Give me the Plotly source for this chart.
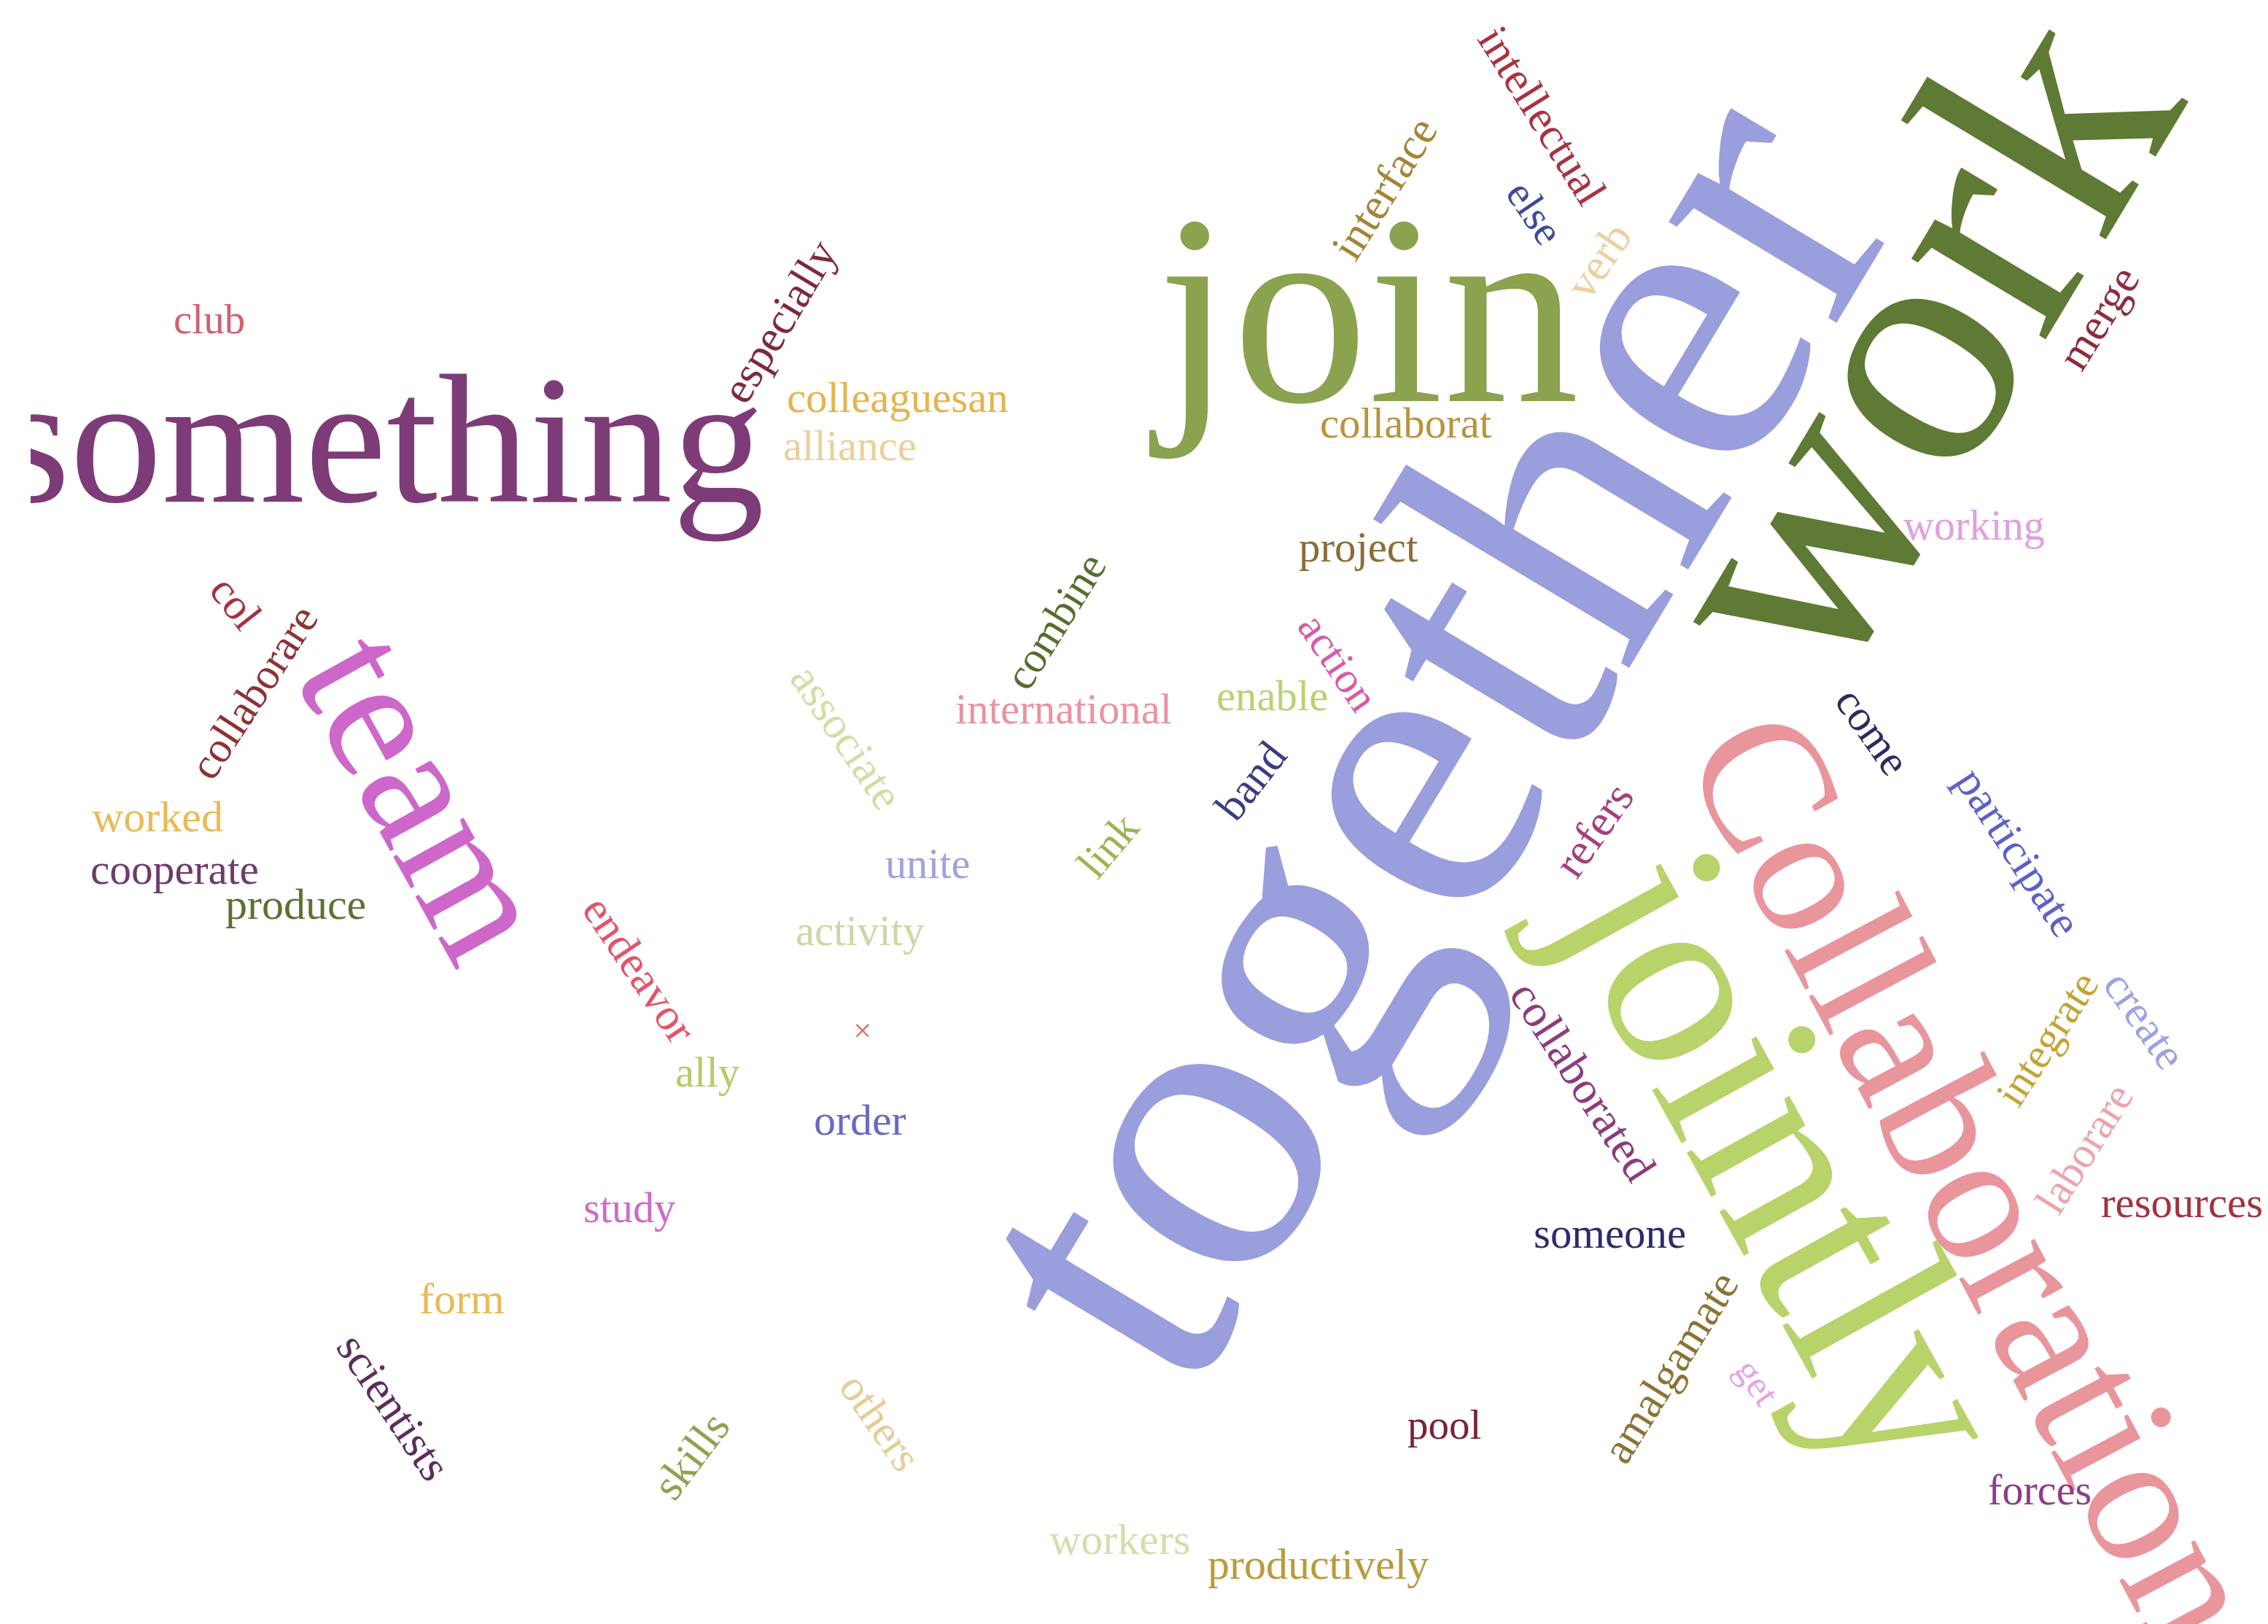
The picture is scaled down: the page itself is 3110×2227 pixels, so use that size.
import plotly.graph_objects as go

# ---- data: words and their weights (font size = weight * 6 px) ----
words = ["club", "something", "especially", "colleaguesan", "alliance", "join", "interface",
         "intellectual", "else", "verb", "together", "work", "merge", "collaborat", "working",
         "project", "combine", "action", "enable", "international", "associate", "band", "link",
         "unite", "activity", "×", "ally", "order", "study", "form", "scientists", "skills",
         "others", "workers", "productively", "pool", "someone", "amalgamate", "get", "jointly",
         "Collaboration", "come", "participate", "refers", "collaborated", "integrate", "create",
         "laborare", "resources", "forces", "team", "col", "collaborare", "worked", "cooperate",
         "produce", "endeavor"]
weights = [9.5, 42, 10.3, 9.8, 9.8, 62, 10.3,
           10.3, 9.7, 10.3, 97.5, 78, 10.3, 9.8, 9.7,
           9.8, 10, 10, 9.8, 9.8, 10.3, 10, 10,
           9.7, 9.8, 7.5, 9.8, 10, 9.7, 10, 10.3, 10.3,
           10, 10, 10, 9.5, 9.8, 10.2, 8.7, 58.3,
           42.5, 10, 10.3, 10.3, 10.5, 9.8, 10.3,
           10, 9.8, 9.7, 40, 10, 10, 10, 9.9,
           10, 10.3]

# ---- placement of each word (canvas pixels) ----
pos_x = [287, 523, 1068, 1231, 1165, 1870, 1898,
         2115, 2105, 2192, 1950, 2618, 2877, 1927, 2707,
         1862, 1447, 1835, 1744, 1458, 1161, 1715, 1519,
         1272, 1179, 1182, 970, 1179, 863, 633, 540, 947,
         1207, 1535, 1807, 1980, 2207, 2290, 2410, 2452,
         2710, 2568, 2768, 2185, 2170, 2807, 2941,
         2858, 2992, 2797, 585, 323, 348, 216, 239,
         405, 877]
pos_y = [437, 625, 441, 545, 611, 425, 258,
         158, 291, 357, 1006, 470, 436, 580, 720,
         750, 852, 908, 954, 972, 1010, 1071, 1160,
         1184, 1276, 1413, 1470, 1536, 1656, 1781, 1929, 1996,
         1950, 2111, 2145, 1953, 1691, 1874, 1895, 1588,
         1615, 1003, 1168, 1138, 1482, 1424, 1398,
         1575, 1649, 2043, 1090, 826, 949, 1120, 1192,
         1240, 1329]
angles = [0, 0, -59, 0, 0, 0, -58,
          58, 56, -56, -59, -59, -58, 0, 0,
          0, -58, 56, 0, 0, 56, -52, -50,
          0, 0, 0, 0, 0, 0, 0, 56, -53,
          55, 0, 0, 0, 0, -58, 55, 61,
          62, 55, 57, -55, 57, -57, 55,
          -58, 0, 0, 61, 52, -57, 0, 0,
          0, 56]
colors = ["#d0606e", "#7d3c78", "#7d2a3c", "#e3b54e", "#ead09a", "#8ba24f", "#a58436",
          "#a8323f", "#3b4a9c", "#ecd0a0", "#9b9edc", "#5e7a34", "#8c2c3c", "#b9943c", "#e0a0e0",
          "#8c6c34", "#566d2e", "#d65aa8", "#b9d273", "#ea93a0", "#d3dea6", "#3c3c84", "#9cb454",
          "#a0a3de", "#cad9a3", "#e06b6b", "#b3cc65", "#676ac4", "#cc6cc6", "#e9b955", "#5c2c5c", "#8da34f",
          "#e4cc94", "#d3dfac", "#bb9a3b", "#7c2333", "#2c2c6c", "#8c7334", "#e4a4e4", "#b7d36a",
          "#e9959c", "#2c2c62", "#5c62c4", "#a4407f", "#8c3c7c", "#c3a333", "#9da2e2",
          "#eba4ab", "#a3323f", "#8c3c8c", "#cd67c9", "#a4323f", "#8c3234", "#e9ba55", "#6c3c6c",
          "#5c7232", "#e3536a"]

W, H = 3110, 2227
LEFT = 42
FONT = "Liberation Serif, Times New Roman, serif"

fig = go.Figure()
annotations = []
for w, wt, x, y, a, c in zip(words, weights, pos_x, pos_y, angles, colors):
    size = wt * 6
    if w == "something":
        # horizontal word clipped by the left edge of the plotting area
        fig.add_trace(go.Scatter(x=[x], y=[y], mode="text", text=[w],
                                 textposition="middle center", cliponaxis=True,
                                 textfont=dict(family=FONT, size=size, color=c),
                                 hoverinfo="skip", showlegend=False))
        continue
    annotations.append(dict(x=x, y=y, xref="x", yref="y", text=w, showarrow=False,
                            textangle=a, xanchor="center", yanchor="middle",
                            font=dict(family=FONT, size=size, color=c)))

fig.update_layout(
    width=W, height=H,
    margin=dict(l=LEFT, r=0, t=0, b=0),
    paper_bgcolor="white", plot_bgcolor="white",
    xaxis=dict(range=[LEFT, W], visible=False, fixedrange=True),
    yaxis=dict(range=[H, 0], visible=False, fixedrange=True),
    annotations=annotations,
    showlegend=False,
)

fig.write_html("out.html", config={"displayModeBar": False},
               post_script="document.body.style.margin='0';document.body.style.overflow='hidden';")
